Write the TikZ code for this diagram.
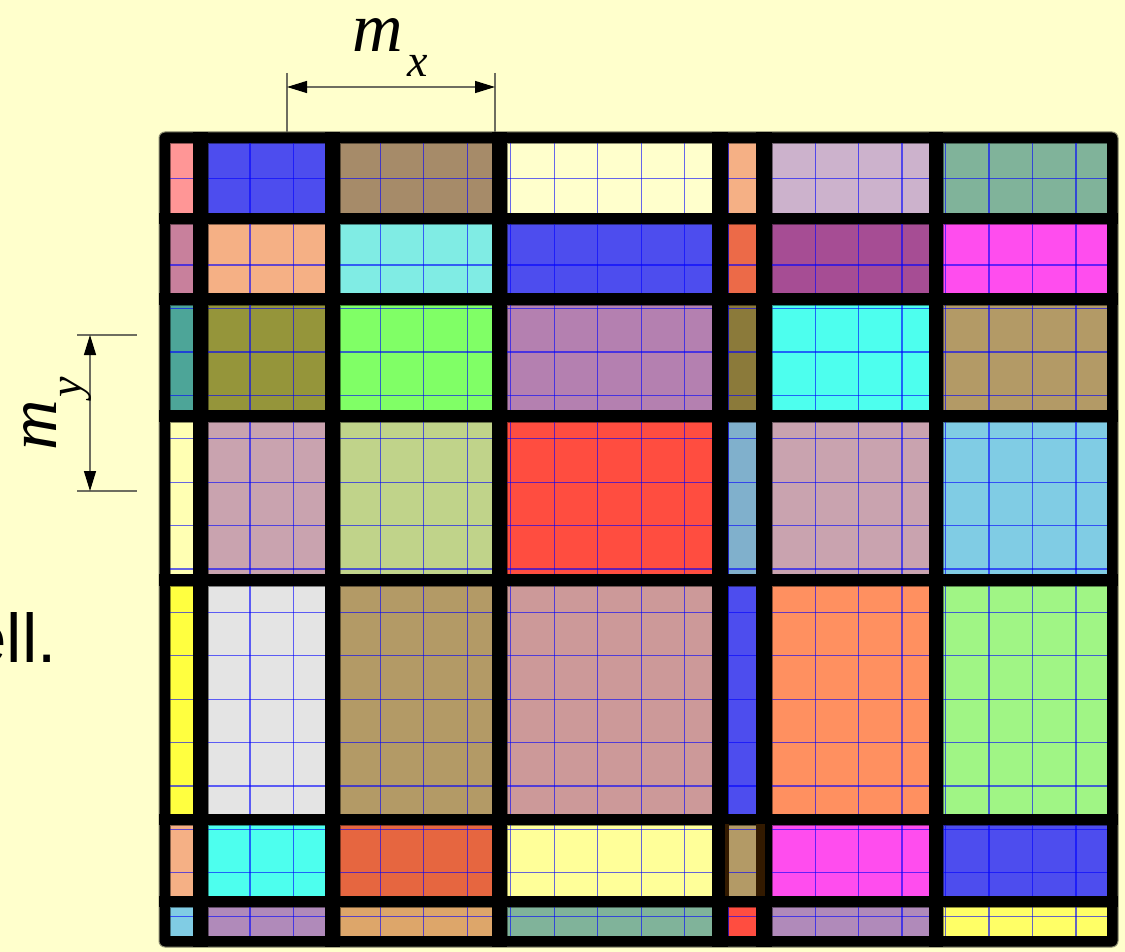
\documentclass[tikz,border=0pt]{standalone}
\usepackage{fontspec}
\setmainfont{Liberation Serif}
\newfontfamily\labelsans{Liberation Sans}
\usetikzlibrary{arrows.meta}
\definecolor{bgPaper}{HTML}{FFFFCC}
\definecolor{frameGray}{HTML}{8A8A70}
\definecolor{dimGray}{HTML}{6E6E60}
\definecolor{edgeBrown}{HTML}{331A00}
\definecolor{cPink}{HTML}{FF9696}
\definecolor{cBlue}{HTML}{4D4DEE}
\definecolor{cBrown}{HTML}{A68B69}
\definecolor{cApricot}{HTML}{F5B085}
\definecolor{cLilac}{HTML}{CCB2CC}
\definecolor{cSage}{HTML}{80B39A}
\definecolor{cMauve}{HTML}{C8809C}
\definecolor{cAqua}{HTML}{80ECE4}
\definecolor{cRust}{HTML}{EC6A48}
\definecolor{cPlum}{HTML}{A64D94}
\definecolor{cMagenta}{HTML}{FF4DEE}
\definecolor{cTeal}{HTML}{4DA598}
\definecolor{cOlive}{HTML}{95953A}
\definecolor{cLime}{HTML}{80FF66}
\definecolor{cOrchid}{HTML}{B480B0}
\definecolor{cKhaki}{HTML}{8B7A3A}
\definecolor{cCyan}{HTML}{4DFFEE}
\definecolor{cTan}{HTML}{B39A66}
\definecolor{cLemon}{HTML}{FFFFB3}
\definecolor{cRose}{HTML}{C9A3AF}
\definecolor{cPistachio}{HTML}{C0D38A}
\definecolor{cRed}{HTML}{FF4D40}
\definecolor{cSteel}{HTML}{80B0CC}
\definecolor{cSky}{HTML}{80CCE4}
\definecolor{cYellow}{HTML}{FFFF40}
\definecolor{cSilver}{HTML}{E4E4E4}
\definecolor{cDustyRose}{HTML}{CC9999}
\definecolor{cCoral}{HTML}{FF9060}
\definecolor{cMint}{HTML}{A0F585}
\definecolor{cVermilion}{HTML}{E66640}
\definecolor{cButter}{HTML}{FFFF99}
\definecolor{cHeather}{HTML}{B08ABA}
\definecolor{cSand}{HTML}{DDA66A}
\definecolor{cCanary}{HTML}{FFFF66}
% one row of blocks: top, height, then the seven colours
\newcommand{\blockrow}[9]{%
  \foreach \cx/\cw/\cc in {170/23/#3,208/117/#4,340/152/#5,507/205/#6,728/28/#7,772/157/#8,943/164/#9}
    {\filldraw[cellbox, fill=\cc] (\cx,#1) rectangle ++(\cw,#2);}}

\begin{document}
\begin{tikzpicture}[x=1pt, y=-1pt,
    cellbox/.style={draw=black, draw opacity=0.45, line width=0.8pt},
    gridline/.style={draw=blue, line width=1.2pt, opacity=0.6},
    extline/.style={draw=dimGray, line width=1.3pt},
    dimarrow/.style={draw=dimGray, line width=1.3pt,
      {Triangle[length=20pt, width=12pt, color=black]}-{Triangle[length=20pt, width=12pt, color=black]}},
    dimlabel/.style={inner sep=0pt, font=\fontsize{70}{74}\selectfont\itshape},
    sublabel/.style={inner sep=0pt, font=\fontsize{46}{50}\selectfont\itshape}]
  \clip (0,0) rectangle (1125,952);
  \fill[bgPaper] (0,0) rectangle (1125,952);

  % frame under the blocks
  \filldraw[fill=black, draw=frameGray, line width=1pt, rounded corners=6pt] (159,132) rectangle (1118,947);

  \blockrow{143}{70}{cPink}{cBlue}{cBrown}{bgPaper}{cApricot}{cLilac}{cSage}
  \blockrow{224}{69}{cMauve}{cApricot}{cAqua}{cBlue}{cRust}{cPlum}{cMagenta}
  \blockrow{305}{105}{cTeal}{cOlive}{cLime}{cOrchid}{cKhaki}{cCyan}{cTan}
  \blockrow{422}{152}{cLemon}{cRose}{cPistachio}{cRed}{cSteel}{cRose}{cSky}
  \blockrow{586}{228}{cYellow}{cSilver}{cTan}{cDustyRose}{cBlue}{cCoral}{cMint}
  \blockrow{825}{71}{cApricot}{cCyan}{cVermilion}{cButter}{cTan}{cMagenta}{cBlue}
  \blockrow{907}{29}{cSky}{cHeather}{cSand}{cSage}{cRed}{cHeather}{cCanary}

  % fine mesh
  \begin{scope}
    \clip (170,143) rectangle (1107,936);
    \foreach \k in {-2,...,20}
      \draw[gridline] ({250+43.47*\k},143) -- ({250+43.47*\k},936);
    \foreach \k in {-1,...,18}
      \draw[gridline] (170,{178.3+43.4*\k}) -- (1107,{178.3+43.4*\k});
  \end{scope}

  % thick separators
  \foreach \bx/\bw in {193/15,325/15,492/15,712/16,756/16,929/14}
    \fill[black] (\bx,132) rectangle ++(\bw,815);
  \foreach \by/\bh in {213/11,293/12,410/12,574/12,814/11,896/11}
    \fill[black] (159,\by) rectangle ++(959,\bh);
  \fill[edgeBrown] (725,824) rectangle (729,896);
  \fill[edgeBrown] (756,824) rectangle (765,896);

  % m_x
  \coordinate (mxLeft) at (287,87);
  \coordinate (mxRight) at (495,87);
  \draw[extline] (mxLeft) ++(0,-14) -- ++(0,59);
  \draw[extline] (mxRight) ++(0,-14) -- ++(0,59);
  \draw[dimarrow] (mxLeft) -- (mxRight);
  \node[dimlabel, anchor=base west] (mxLabel) at (352,52) {m};
  \node[sublabel, anchor=base west] (mxSub) at (407,77) {x};

  % m_y
  \coordinate (myTop) at (90,335);
  \coordinate (myBottom) at (90,491);
  \draw[extline] (myTop) ++(-13,0) -- ++(60,0);
  \draw[extline] (myBottom) ++(-13,0) -- ++(60,0);
  \draw[dimarrow] (myTop) -- (myBottom);
  \node[dimlabel, anchor=base west, rotate=90] (myLabel) at (56,451) {m};
  \node[sublabel, anchor=base west, rotate=90] (mySub) at (81,398) {y};

  \node[inner sep=0pt, anchor=base east, font=\labelsans\fontsize{69}{72}\selectfont] (cutText) at (57,662) {ell.};
\end{tikzpicture}
\end{document}
